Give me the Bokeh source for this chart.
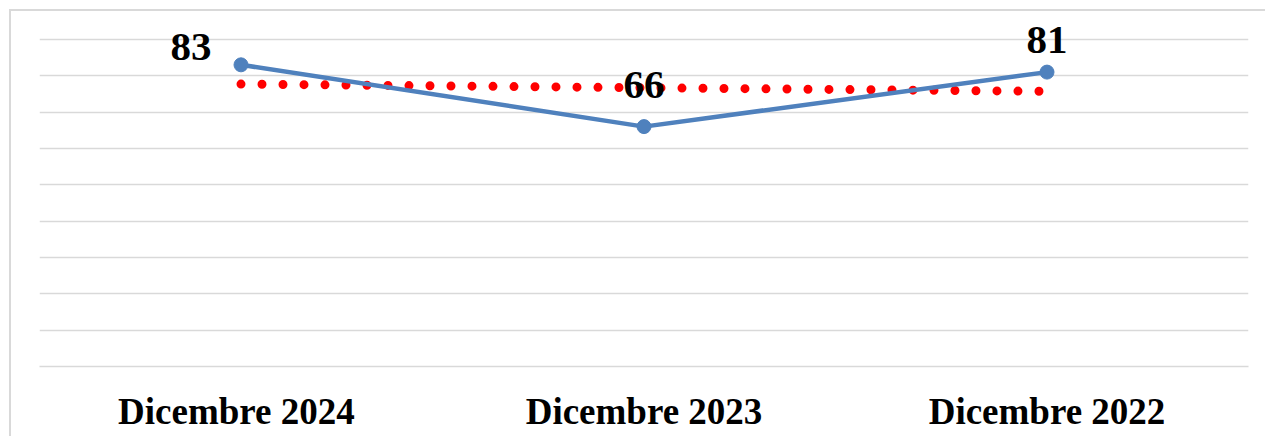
from bokeh.plotting import figure
from bokeh.models import FixedTicker, Range1d, FactorRange
from bokeh.core.properties import value
from bokeh.embed import file_html
from bokeh.resources import INLINE

categories = ["Dicembre  2024", "Dicembre 2023", "Dicembre 2022"]
values = [83, 66, 81]
trend = [77.7, 76.7, 75.7]
labels = ["83", "66", "81"]
grid_ticks = [0, 10, 20, 30, 40, 50, 60, 70, 80, 90]

p = figure(x_range=FactorRange(*categories, range_padding=0), y_range=Range1d(0, 97.4),
           width=1256, height=427, output_backend="svg", toolbar_location=None,
           min_border=0, min_border_left=28, min_border_right=19,
           min_border_top=1, min_border_bottom=72)
p.styles = {"margin-left": "9px", "margin-top": "9px",
            "border-left": "2px solid #d9d9d9", "border-top": "2px solid #d9d9d9"}
p.outline_line_color = None
p.background_fill_color = "white"
p.border_fill_color = "white"

# trendline
p.line(categories, trend, line_color="#ff0000", line_width=9, line_dash="0 21", line_cap="round")
# series
p.line(categories, values, line_color="#4f81bd", line_width=4.5)
p.scatter(categories, values, size=14, fill_color="#4f81bd", line_color="#4f81bd")

offsets = [(-50, -18), (0, -42), (0, -32)]
for cat, v, lab, (dx, dy) in zip(categories, values, labels, offsets):
    p.text([cat], [v], text=[lab], x_offset=dx, y_offset=dy,
           text_font=value("Liberation Serif"), text_font_style="bold",
           text_font_size="41px", text_color="black",
           text_align="center", text_baseline="alphabetic")

p.yaxis.visible = False
p.yaxis.ticker = FixedTicker(ticks=grid_ticks)
p.ygrid.ticker = FixedTicker(ticks=grid_ticks)
p.ygrid.grid_line_color = "#d9d9d9"
p.ygrid.grid_line_width = 1.5
p.xgrid.grid_line_color = None

p.xaxis.axis_line_color = "#d9d9d9"
p.xaxis.axis_line_width = 1.5
p.xaxis.major_tick_line_color = None
p.xaxis.minor_tick_line_color = None
p.xaxis.major_label_text_font = "Liberation Serif"
p.xaxis.major_label_text_font_style = "bold"
p.xaxis.major_label_text_font_size = "37px"
p.xaxis.major_label_text_color = "black"
p.xaxis.major_label_standoff = 18

open("out.html", "w").write(file_html(p, INLINE))
